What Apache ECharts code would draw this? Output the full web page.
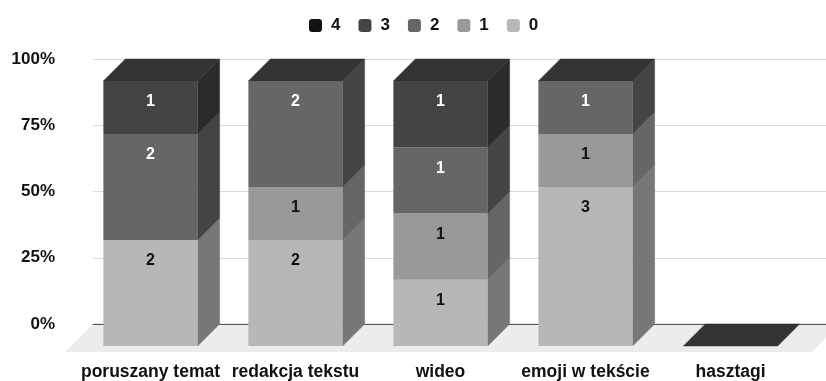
<!DOCTYPE html>
<html>
<head>
<meta charset="utf-8">
<style>
  html, body { margin: 0; padding: 0; background: #ffffff; }
  #chart { width: 826px; height: 381px; }
</style>
<script src="https://cdn.jsdelivr.net/npm/echarts@6/dist/echarts.min.js"></script>
</head>
<body>
<div id="chart"></div>
<script>
// Categories along the x axis
const categories = ['poruszany temat', 'redakcja tekstu', 'wideo', 'emoji w tekście', 'hasztagi'];
// Answer counts per rating level (stacked bottom to top: 0, 1, 2, 3, 4)
const count0 = [2, 2, 1, 3, 0];
const count1 = [0, 1, 1, 1, 0];
const count2 = [2, 2, 1, 1, 0];
const count3 = [1, 0, 1, 0, 0];
const count4 = [0, 0, 0, 0, 0];
// Percentage ticks on the value axis
const yTicks = [0, 25, 50, 75, 100];
// Legend order
const legendOrder = ['4', '3', '2', '1', '0'];

const levelNames = ['0', '1', '2', '3', '4'];
const levelCounts = [count0, count1, count2, count3, count4];

const FONT = "'Liberation Sans', Arial, sans-serif";
const frontColors = ['#b7b7b7', '#999999', '#666666', '#444444', '#111111'];
const sideColors = ['#777777', '#666666', '#444444', '#2b2b2b', '#111111'];
const topColor = '#333333';
const labelColors = ['#111111', '#111111', '#ffffff', '#ffffff', '#ffffff'];
const DEPTH = 22;        // receding depth of the 3D boxes, px
const BAR_RATIO = 0.65;  // bar width as a share of the category band

// Totals and percentage shares for each category
const totals = categories.map((_, i) => levelCounts.reduce((s, arr) => s + arr[i], 0));
const shares = levelCounts.map(arr => arr.map((v, i) => totals[i] ? v / totals[i] * 100 : 0));

// Segments for the side faces and the top face of each stack
const sideData = [];
const topData = [];
categories.forEach((_, i) => {
  let acc = 0;
  shares.forEach((arr, l) => {
    const v = arr[i];
    if (v > 0) sideData.push([i, acc, acc + v, l]);
    acc += v;
  });
  topData.push([i, acc, acc, -1]);
});

function renderBox(params, api) {
  const i = api.value(0);
  const s = api.value(1);
  const e = api.value(2);
  const lvl = api.value(3);
  const pBot = api.coord([i, s]);
  const pTop = api.coord([i, e]);
  const bw = api.size([1, 0])[0] * BAR_RATIO;
  const x0 = pBot[0] - bw / 2;
  const x1 = pBot[0] + bw / 2;
  const D = DEPTH;
  if (lvl >= 0) {
    return {
      type: 'polygon',
      shape: { points: [[x1, pTop[1]], [x1 + D, pTop[1] - D], [x1 + D, pBot[1] - D], [x1, pBot[1]]] },
      style: { fill: sideColors[lvl], stroke: sideColors[lvl], lineWidth: 0.5 }
    };
  }
  return {
    type: 'polygon',
    shape: { points: [[x0, pTop[1]], [x0 + D, pTop[1] - D], [x1 + D, pTop[1] - D], [x1, pTop[1]]] },
    style: { fill: topColor, stroke: topColor, lineWidth: 0.5 }
  };
}

function renderFloor(params, api) {
  const cs = params.coordSys;
  const y0 = api.coord([0, 0])[1];
  const backY = y0 - DEPTH - 1;
  const frontY = y0 + 6;
  const fl = cs.x - 13;
  const fr = cs.x + cs.width + 9;
  const d = frontY - backY;
  return {
    type: 'polygon',
    shape: { points: [[fl, frontY], [fl + d, backY], [fr + d, backY], [fr, frontY]] },
    style: { fill: '#ececec' }
  };
}

const barSeries = levelNames.map((name, l) => ({
  name: name,
  type: 'bar',
  stack: 'total',
  xAxisIndex: 0,
  yAxisIndex: 0,
  barWidth: (BAR_RATIO * 100) + '%',
  z: 5,
  itemStyle: { color: frontColors[l] },
  label: {
    show: true,
    position: 'insideTop',
    distance: 13,
    color: labelColors[l],
    fontFamily: FONT,
    fontWeight: 'bold',
    fontSize: 16,
    formatter: p => levelCounts[l][p.dataIndex] > 0 ? String(levelCounts[l][p.dataIndex]) : ''
  },
  emphasis: { disabled: true },
  data: shares[l]
}));

const chart = echarts.init(document.getElementById('chart'), null, { renderer: 'canvas' });
chart.setOption({
  animation: false,
  backgroundColor: '#ffffff',
  textStyle: { fontFamily: FONT },
  legend: {
    data: legendOrder,
    top: 12,
    left: 304,
    itemWidth: 13,
    itemHeight: 13,
    itemGap: 18,
    icon: 'roundRect',
    selectedMode: false,
    textStyle: { fontFamily: FONT, fontWeight: 'bold', fontSize: 17, color: '#111111', padding: [0, 0, 0, 4] }
  },
  grid: [
    // front faces of the boxes
    { left: 78, right: 23, top: 81, bottom: 34 },
    // back wall carrying the percentage grid
    { left: 93, right: 0, top: 59, bottom: 57 }
  ],
  xAxis: [
    {
      type: 'category', gridIndex: 0, data: categories,
      axisLine: { show: false }, axisTick: { show: false },
      axisLabel: { margin: 17, color: '#111111', fontFamily: FONT, fontWeight: 'bold', fontSize: 17.5, interval: 0 }
    },
    {
      type: 'value', gridIndex: 1, min: 0, max: 1, z: 3,
      axisLine: { show: true, onZero: false, lineStyle: { color: '#555555', width: 1 } },
      axisTick: { show: false }, axisLabel: { show: false }, splitLine: { show: false }
    }
  ],
  yAxis: [
    { type: 'value', gridIndex: 0, min: 0, max: 100, show: false },
    {
      type: 'value', gridIndex: 1, min: yTicks[0], max: yTicks[yTicks.length - 1], interval: yTicks[1] - yTicks[0],
      axisLine: { show: false }, axisTick: { show: false },
      axisLabel: { margin: 38, color: '#111111', fontFamily: FONT, fontWeight: 'bold', fontSize: 17, formatter: '{value}%' },
      splitLine: { lineStyle: { color: '#dcdcdc', width: 1 } }
    }
  ],
  series: [
    {
      type: 'custom', name: 'floor', xAxisIndex: 0, yAxisIndex: 0, z: 1,
      renderItem: renderFloor, data: [[0, 0]], silent: true
    },
    ...barSeries,
    {
      type: 'custom', name: 'sides', xAxisIndex: 0, yAxisIndex: 0, z: 5,
      renderItem: renderBox, encode: { x: 0, y: [1, 2] }, data: sideData, silent: true
    },
    {
      type: 'custom', name: 'tops', xAxisIndex: 0, yAxisIndex: 0, z: 5,
      renderItem: renderBox, encode: { x: 0, y: [1, 2] }, data: topData, silent: true
    }
  ]
});
</script>
</body>
</html>
